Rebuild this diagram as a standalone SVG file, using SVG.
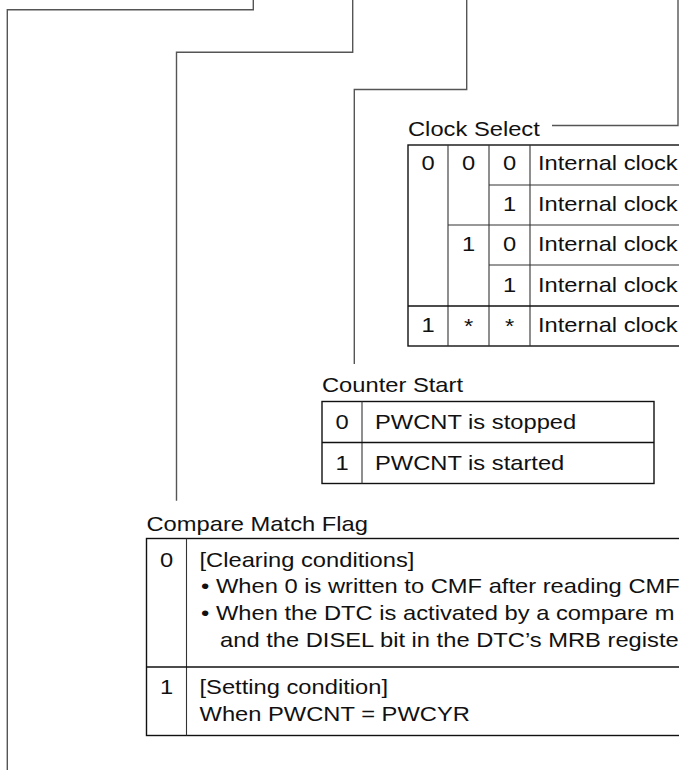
<svg xmlns="http://www.w3.org/2000/svg" width="679" height="770" viewBox="0 0 679 770">
<style>
.t{font-family:"Liberation Sans",Arial,Helvetica,sans-serif;font-size:21px;fill:#111}
.d{font-family:"Liberation Sans",Arial,Helvetica,sans-serif;font-size:21px;fill:#111;text-anchor:middle}
.con{fill:none;stroke:#555;stroke-width:1.4}
.box{fill:none;stroke:#111;stroke-width:1.4}
.in{fill:none;stroke:#333;stroke-width:1.1}
</style>
<rect width="679" height="770" fill="#fff"/>
<g id="connectors">
<path class="con" d="M253.3,0 V9.7 H7.3 V770"/>
<path class="con" d="M352.7,0 V52.3 H176.5 V500.7"/>
<path class="con" d="M466.7,0 V89.5 H354.3 V364"/>
<path class="con" d="M678,0 V125.5 H552"/>
</g>
<g id="clock-select">
<text class="t" transform="translate(408,136) scale(1.13,1)">Clock Select</text>
<rect class="box" x="408" y="145" width="300" height="201"/>
<path class="in" d="M448,145 V346 M489,145 V346 M530,145 V346 M489,185 H700 M448,225 H700 M489,265 H700"/>
<path class="box" d="M408,306 H700"/>
<text class="d" transform="translate(428,169.5) scale(1.13,1)">0</text>
<text class="d" transform="translate(468.5,169.5) scale(1.13,1)">0</text>
<text class="d" transform="translate(509.5,169.5) scale(1.13,1)">0</text>
<text class="t" transform="translate(538,169.5) scale(1.13,1)">Internal clock</text>
<text class="d" transform="translate(509.5,211) scale(1.13,1)">1</text>
<text class="t" transform="translate(538,211) scale(1.13,1)">Internal clock</text>
<text class="d" transform="translate(468.5,251) scale(1.13,1)">1</text>
<text class="d" transform="translate(509.5,251) scale(1.13,1)">0</text>
<text class="t" transform="translate(538,251) scale(1.13,1)">Internal clock</text>
<text class="d" transform="translate(509.5,291.5) scale(1.13,1)">1</text>
<text class="t" transform="translate(538,291.5) scale(1.13,1)">Internal clock</text>
<text class="d" transform="translate(428,332) scale(1.13,1)">1</text>
<text class="d" transform="translate(468.5,333) scale(1.13,1)">*</text>
<text class="d" transform="translate(509.5,333) scale(1.13,1)">*</text>
<text class="t" transform="translate(538,332) scale(1.13,1)">Internal clock</text>
</g>
<g id="counter-start">
<text class="t" transform="translate(322,392) scale(1.13,1)">Counter Start</text>
<rect class="box" x="322" y="401.5" width="332" height="82"/>
<path class="in" d="M362,401.5 V483.5"/>
<path class="box" d="M322,442.5 H654"/>
<text class="d" transform="translate(342,429) scale(1.13,1)">0</text>
<text class="t" transform="translate(375,429) scale(1.13,1)">PWCNT is stopped</text>
<text class="d" transform="translate(342,470) scale(1.13,1)">1</text>
<text class="t" transform="translate(375,470) scale(1.13,1)">PWCNT is started</text>
</g>
<g id="compare-match-flag">
<text class="t" transform="translate(146.5,531) scale(1.13,1)">Compare Match Flag</text>
<rect class="box" x="146.5" y="538.5" width="560" height="197"/>
<path class="in" d="M186.5,538.5 V735.5"/>
<path class="box" d="M146.5,667 H700"/>
<text class="d" transform="translate(166.5,566.5) scale(1.13,1)">0</text>
<text class="t" transform="translate(199.5,566.5) scale(1.13,1)">[Clearing conditions]</text>
<text class="t" transform="translate(201,593.3) scale(1.13,1)">• When 0 is written to CMF after reading CMF</text>
<text class="t" transform="translate(201,620) scale(1.13,1)">• When the DTC is activated by a compare m</text>
<text class="t" transform="translate(220,646.7) scale(1.13,1)">and the DISEL bit in the DTC’s MRB registe</text>
<text class="d" transform="translate(166.5,694.3) scale(1.13,1)">1</text>
<text class="t" transform="translate(199.5,694.3) scale(1.13,1)">[Setting condition]</text>
<text class="t" transform="translate(199.5,721) scale(1.13,1)">When PWCNT = PWCYR</text>
</g>
</svg>
